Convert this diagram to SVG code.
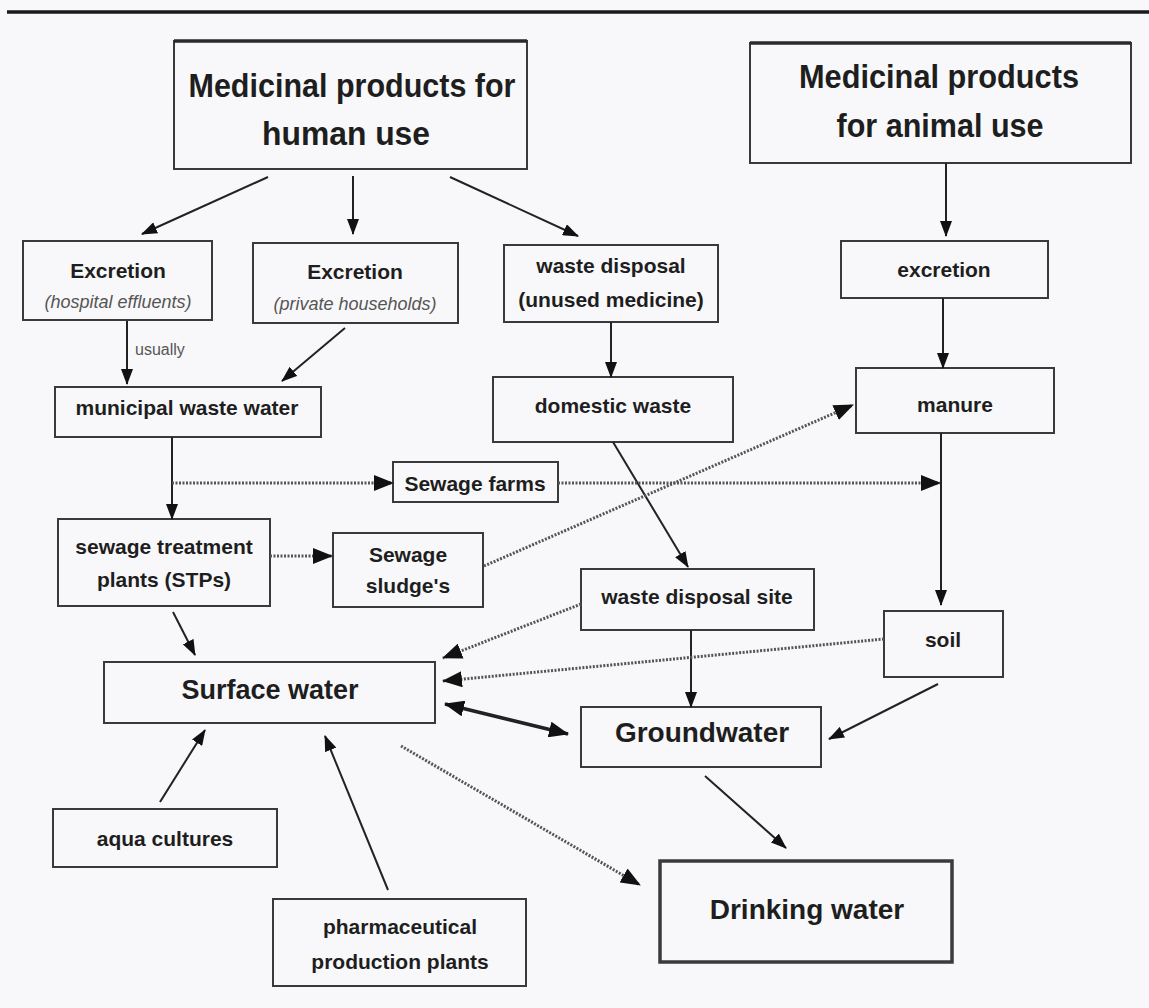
<svg xmlns="http://www.w3.org/2000/svg" width="1149" height="1008" viewBox="0 0 1149 1008">
<style>
.box{fill:none;stroke:#3a3a3a;stroke-width:2}
.thick{stroke-width:3.5}
.t{font-family:"Liberation Sans",Arial,sans-serif;font-weight:bold;fill:#1e1e1e;text-anchor:middle;font-size:21px}
.big{font-size:28px}
.huge{font-size:33px}
.it{font-family:"Liberation Sans",Arial,sans-serif;font-style:italic;fill:#555;text-anchor:middle;font-size:18px}
.lbl{font-family:"Liberation Sans",Arial,sans-serif;fill:#555;font-size:16px}
.s{fill:none;stroke:#222;stroke-width:2;marker-end:url(#ah)}
.d{fill:none;stroke:#555;stroke-width:3;stroke-dasharray:2 1.5;marker-end:url(#ahb)}
</style>
<defs>
<marker id="ah" markerUnits="userSpaceOnUse" markerWidth="16" markerHeight="12" refX="15" refY="6" orient="auto-start-reverse" viewBox="0 0 16 12">
<path d="M0,0 L16,6 L0,12 z" fill="#111"/>
</marker>
<marker id="ahb" markerUnits="userSpaceOnUse" markerWidth="20" markerHeight="16" refX="19" refY="8" orient="auto-start-reverse" viewBox="0 0 20 16">
<path d="M0,0 L20,8 L0,16 z" fill="#111"/>
</marker>
</defs>
<rect x="0" y="0" width="1149" height="1008" fill="#f8f8fa"/>
<line x1="7" y1="12" x2="1149" y2="12" stroke="#1a1a1a" stroke-width="3.5"/>

<g id="human">
<rect class="box" x="174" y="41" width="353" height="128"/>
<line x1="174" y1="41" x2="527" y2="41" stroke="#2a2a2a" stroke-width="3.5"/>
<text class="t huge" x="352" y="97" textLength="327" lengthAdjust="spacingAndGlyphs">Medicinal products for</text>
<text class="t huge" x="346" y="145" textLength="168" lengthAdjust="spacingAndGlyphs">human use</text>
</g>
<g id="animal">
<rect class="box" x="750" y="43" width="381" height="120"/>
<line x1="750" y1="43" x2="1131" y2="43" stroke="#2a2a2a" stroke-width="3.5"/>
<text class="t huge" x="939" y="88" textLength="280" lengthAdjust="spacingAndGlyphs">Medicinal products</text>
<text class="t huge" x="940" y="137" textLength="207" lengthAdjust="spacingAndGlyphs">for animal use</text>
</g>
<g id="excretion-hospital">
<rect class="box" x="23" y="241" width="189" height="79"/>
<text class="t" x="118" y="278">Excretion</text>
<text class="it" x="118" y="308">(hospital effluents)</text>
</g>
<g id="excretion-private">
<rect class="box" x="253" y="243" width="205" height="80"/>
<text class="t" x="355" y="279">Excretion</text>
<text class="it" x="355" y="310">(private households)</text>
</g>
<g id="waste-disposal">
<rect class="box" x="504" y="245" width="214" height="77"/>
<text class="t" x="611" y="273">waste disposal</text>
<text class="t" x="611" y="307">(unused medicine)</text>
</g>
<g id="excretion-animal">
<rect class="box" x="841" y="241" width="207" height="57"/>
<text class="t" x="944" y="277">excretion</text>
</g>
<g id="municipal">
<rect class="box" x="55" y="387" width="266" height="50"/>
<text class="t" x="187" y="415">municipal waste water</text>
</g>
<g id="domestic">
<rect class="box" x="493" y="377" width="240" height="65"/>
<text class="t" x="613" y="413">domestic waste</text>
</g>
<g id="manure">
<rect class="box" x="856" y="368" width="198" height="65"/>
<text class="t" x="955" y="412">manure</text>
</g>
<g id="sewage-farms">
<rect class="box" x="393" y="462" width="165" height="40"/>
<text class="t" x="475" y="491">Sewage farms</text>
</g>
<g id="stp">
<rect class="box" x="58" y="519" width="212" height="87"/>
<text class="t" x="164" y="554">sewage treatment</text>
<text class="t" x="164" y="587">plants (STPs)</text>
</g>
<g id="sludge">
<rect class="box" x="333" y="533" width="150" height="74"/>
<text class="t" x="408" y="562">Sewage</text>
<text class="t" x="408" y="593">sludge's</text>
</g>
<g id="waste-site">
<rect class="box" x="581" y="569" width="233" height="61"/>
<text class="t" x="697" y="604">waste disposal site</text>
</g>
<g id="soil">
<rect class="box" x="884" y="611" width="119" height="66"/>
<text class="t" x="943" y="647">soil</text>
</g>
<g id="surface">
<rect class="box" x="104" y="662" width="331" height="61"/>
<text class="t" x="270" y="699" style="font-size:27px">Surface water</text>
</g>
<g id="groundwater">
<rect class="box" x="581" y="707" width="240" height="60"/>
<text class="t big" x="702" y="742">Groundwater</text>
</g>
<g id="aqua">
<rect class="box" x="53" y="809" width="224" height="58"/>
<text class="t" x="165" y="846">aqua cultures</text>
</g>
<g id="pharma">
<rect class="box" x="273" y="899" width="253" height="87"/>
<text class="t" x="400" y="934">pharmaceutical</text>
<text class="t" x="400" y="969">production plants</text>
</g>
<g id="drinking">
<rect class="box thick" x="660" y="861" width="292" height="101"/>
<text class="t big" x="807" y="919">Drinking water</text>
</g>

<g id="connectors">
<line class="s" x1="268" y1="177" x2="142" y2="234"/>
<line class="s" x1="353" y1="176" x2="353" y2="234"/>
<line class="s" x1="450" y1="177" x2="578" y2="236"/>
<line class="s" x1="127" y1="321" x2="127" y2="384"/>
<text class="lbl" x="135" y="355">usually</text>
<line class="s" x1="345" y1="328" x2="282" y2="381"/>
<line class="s" x1="611" y1="322" x2="611" y2="377"/>
<line class="s" x1="946" y1="163" x2="946" y2="236"/>
<line class="s" x1="943" y1="298" x2="943" y2="368"/>
<line class="s" x1="172" y1="437" x2="172" y2="519"/>
<line class="s" x1="941" y1="433" x2="941" y2="605"/>
<line class="s" x1="613" y1="442" x2="688" y2="567"/>
<line class="s" x1="173" y1="612" x2="195" y2="655"/>
<line class="s" x1="691" y1="630" x2="691" y2="707"/>
<line x1="445" y1="704" x2="568" y2="734" style="fill:none;stroke:#222;stroke-width:3.5;marker-start:url(#ahb);marker-end:url(#ahb)"/>
<line class="s" x1="938" y1="684" x2="829" y2="739"/>
<line class="s" x1="705" y1="776" x2="786" y2="848"/>
<line class="s" x1="160" y1="802" x2="205" y2="730"/>
<line class="s" x1="388" y1="890" x2="325" y2="736"/>
<line class="d" x1="172" y1="483" x2="393" y2="483"/>
<line class="d" x1="558" y1="483" x2="940" y2="483"/>
<line class="d" x1="270" y1="556" x2="332" y2="556"/>
<line class="d" x1="484" y1="566" x2="853" y2="405"/>
<line class="d" x1="581" y1="604" x2="443" y2="658"/>
<line class="d" x1="884" y1="639" x2="443" y2="681"/>
<line class="d" x1="401" y1="746" x2="640" y2="885"/>
</g>
</svg>
